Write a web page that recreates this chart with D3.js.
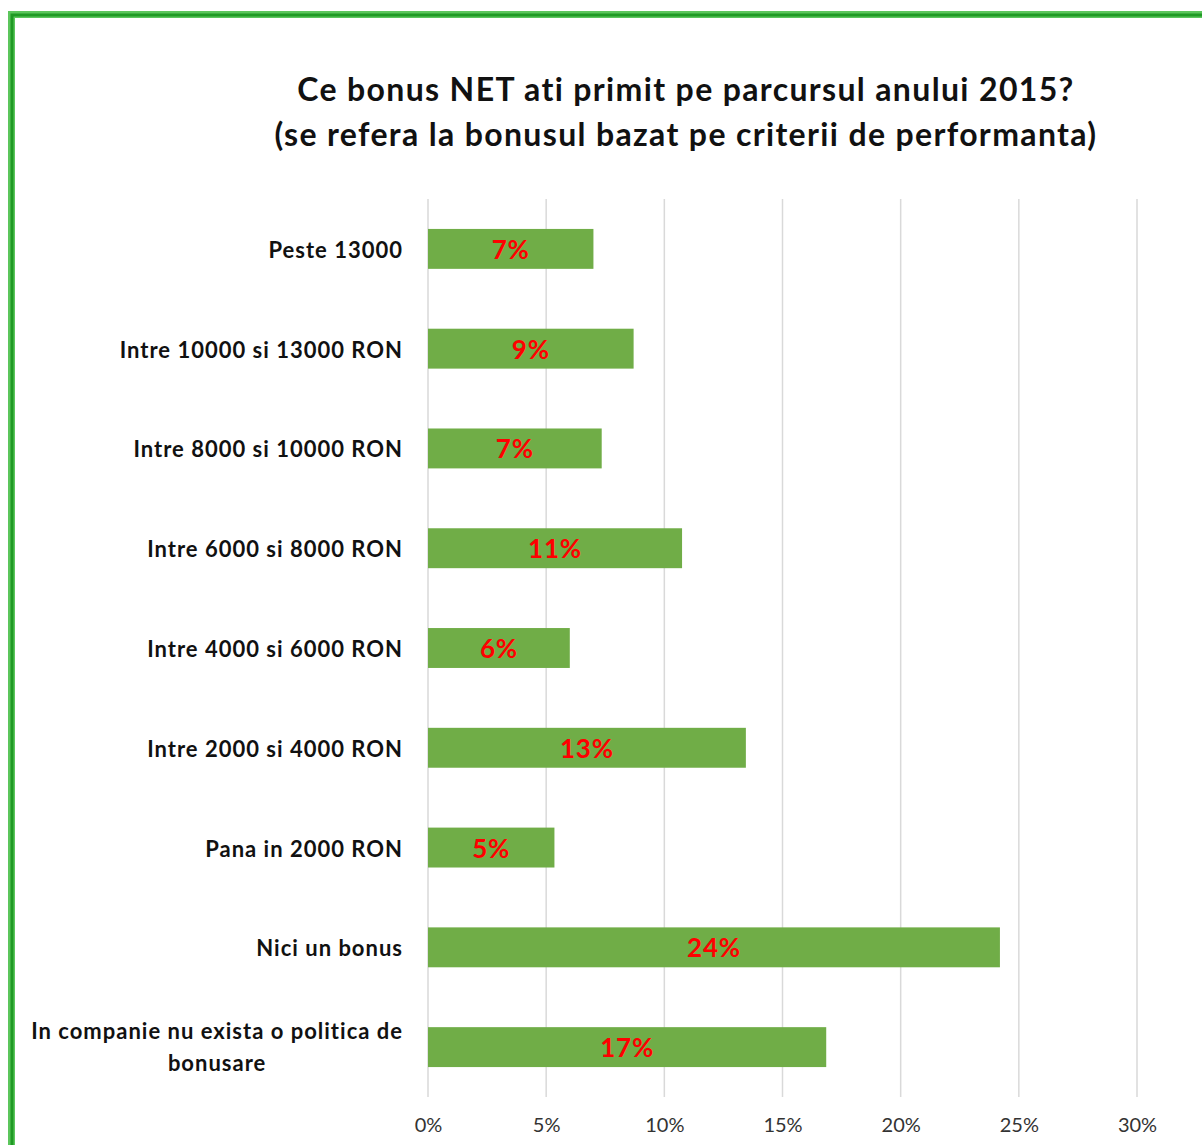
<!DOCTYPE html>
<html><head><meta charset="utf-8">
<script src="https://cdn.jsdelivr.net/npm/d3@7"></script>
<style>body{margin:0;background:#fff}svg{display:block}</style>
</head><body>
<svg id="c" width="1202" height="1145"></svg>
<script>
const categories = ["Peste 13000","Intre 10000 si 13000 RON","Intre 8000 si 10000 RON","Intre 6000 si 8000 RON","Intre 4000 si 6000 RON","Intre 2000 si 4000 RON","Pana in 2000 RON","Nici un bonus","In companie nu exista o politica de bonusare"];
const values = [7.0, 8.7, 7.35, 10.75, 6.0, 13.45, 5.35, 24.2, 16.85];
const valueLabels = ["7%","9%","7%","11%","6%","13%","5%","24%","17%"];
const tickValues = [0,5,10,15,20,25,30];
const titleLines = ["Ce bonus NET ati primit pe parcursul anului 2015?","(se refera la bonusul bazat pe criterii de performanta)"];

const svg = d3.select("#c");
const font = "Lato, 'Open Sans', sans-serif";

// border
svg.append("rect").attr("x",11.5).attr("y",14.5).attr("width",1300).attr("height",1300)
  .attr("fill","none").attr("stroke","#5cc65c").attr("stroke-width",7);
svg.append("rect").attr("x",12).attr("y",15).attr("width",1300).attr("height",1300)
  .attr("fill","none").attr("stroke","#1f9a24").attr("stroke-width",3);

const x = d3.scaleLinear().domain([0,30]).range([428,1137]);
const y = d3.scaleBand().domain(categories).range([199,1097]).paddingInner(0.6).paddingOuter(0.3);

// title
svg.append("g").selectAll("text").data(titleLines).join("text")
  .attr("x",686).attr("y",(d,i)=>101+i*45).attr("text-anchor","middle")
  .attr("font-family",font).attr("font-weight","bold").attr("font-size",32).attr("letter-spacing",1.35).attr("fill","#111")
  .text(d=>d);

// gridlines
svg.append("g").selectAll("line").data(tickValues).join("line")
  .attr("x1",d=>x(d)).attr("x2",d=>x(d)).attr("y1",199).attr("y2",1097)
  .attr("stroke","#d9d9d9").attr("stroke-width",1.5);

// axis labels
const xAxis = d3.axisBottom(x).tickValues(tickValues).tickFormat(d=>d+"%").tickSize(0).tickPadding(0);
const ax = svg.append("g").attr("transform","translate(0,1132)").call(xAxis);
ax.select(".domain").remove();
ax.selectAll("text").attr("font-family",font).attr("font-size",20).attr("fill","#333").attr("dy","0");

// bars
svg.append("g").selectAll("rect").data(categories).join("rect")
  .attr("x",x(0)).attr("y",d=>y(d)).attr("width",(d,i)=>x(values[i])-x(0)).attr("height",y.bandwidth())
  .attr("fill","#70ad47");

// value labels
svg.append("g").selectAll("text").data(categories).join("text")
  .attr("x",(d,i)=>(x(0)+x(values[i]))/2).attr("y",d=>y(d)+y.bandwidth()/2+10)
  .attr("text-anchor","middle").attr("font-family",font).attr("font-weight","bold")
  .attr("font-size",26).attr("letter-spacing",0.8).attr("fill","#ff0000").text((d,i)=>valueLabels[i]);

// category labels
const lab = svg.append("g");
const labAttrs = t => t.attr("font-family",font).attr("font-weight","bold").attr("font-size",22)
  .attr("letter-spacing",1).attr("fill","#111");
categories.forEach((c,i)=>{
  const cy = y(c)+y.bandwidth()/2;
  if (c.length > 30) {
    const l1 = "In companie nu exista o politica de", l2 = "bonusare";
    const t1 = lab.append("text").attr("x",403).attr("y",cy-8).attr("text-anchor","end").call(labAttrs).text(l1);
    const w = t1.node().getComputedTextLength();
    lab.append("text").attr("x",403-w/2).attr("y",cy+24).attr("text-anchor","middle").call(labAttrs).text(l2);
  } else {
    lab.append("text").attr("x",403).attr("y",cy+9).attr("text-anchor","end").call(labAttrs).text(c);
  }
});
</script>
</body></html>
